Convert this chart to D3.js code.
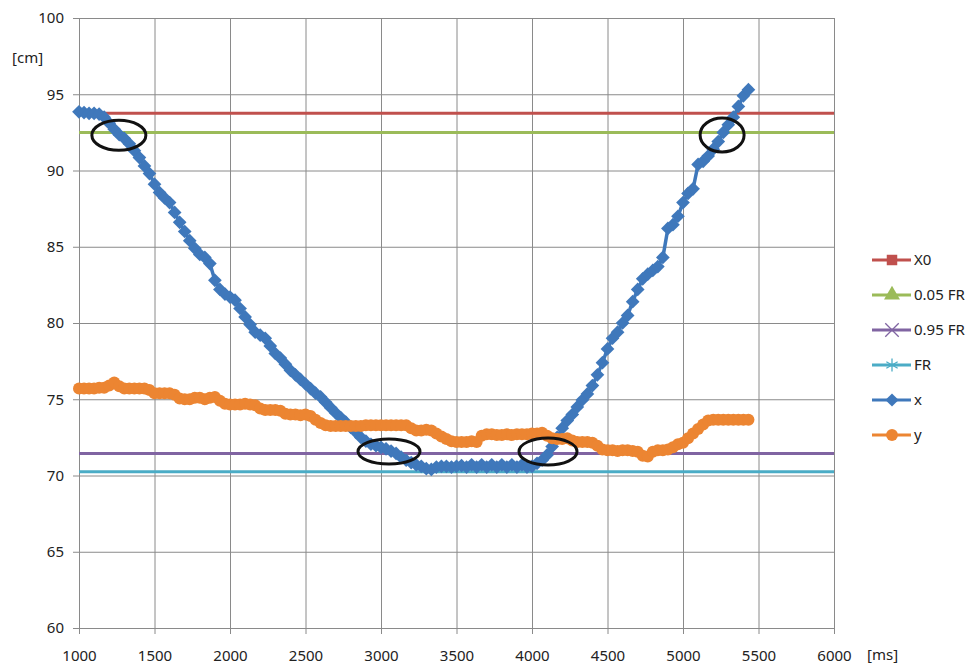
<!DOCTYPE html>
<html>
<head>
<meta charset="utf-8">
<script src="https://cdn.jsdelivr.net/npm/d3@7"></script>
<style>
body { margin: 0; background: #fff; }
text { font-family: "Noto Sans", "Open Sans", sans-serif; fill: #222; }
.grid line { stroke: #8a8a8a; stroke-width: 1; }
.grid path { display: none; }
.axis path, .axis line { stroke: #8a8a8a; }
</style>
</head>
<body>
<svg id="chart" width="974" height="666"></svg>
<script>
// sampling of the recording (30 frames per second)
var startMs = 1000;
var frameMs = 1000 / 30;

var xTicks = [1000, 1500, 2000, 2500, 3000, 3500, 4000, 4500, 5000, 5500, 6000];
var yTicks = [60, 65, 70, 75, 80, 85, 90, 95, 100];

// threshold lines [cm]
var levelNames = ["X0", "0.05 FR", "0.95 FR", "FR"];
var levelValues = [93.75, 92.5, 71.45, 70.25];

// measured positions [cm], one value per frame
var xValues = [
	93.85, 93.8, 93.75, 93.75, 93.7, 93.5, 93.1, 92.7, 92.35, 92.1,
	91.75, 91.3, 90.85, 90.3, 89.8, 89.1, 88.55, 88.2, 87.9, 87.25,
	86.6, 86.0, 85.4, 84.9, 84.5, 84.3, 83.9, 82.8, 82.2, 81.9,
	81.7, 81.5, 80.95, 80.4, 79.9, 79.4, 79.2, 79.0, 78.5, 78.0,
	77.7, 77.3, 76.9, 76.6, 76.3, 76.0, 75.7, 75.4, 75.15, 74.8,
	74.45, 74.1, 73.8, 73.5, 73.15, 72.85, 72.5, 72.25, 72.05, 71.95,
	71.85, 71.75, 71.6, 71.45, 71.2, 71.0, 70.85, 70.7, 70.6, 70.45,
	70.4, 70.55, 70.6, 70.6, 70.55, 70.6, 70.65, 70.55, 70.7, 70.55,
	70.7, 70.55, 70.7, 70.55, 70.7, 70.55, 70.7, 70.55, 70.7, 70.55,
	70.6, 70.8, 71.0, 71.35, 71.9, 72.5, 73.1, 73.6, 74.0, 74.5,
	74.95, 75.35, 75.9, 76.6, 77.4, 78.3, 79.0, 79.4, 80.0, 80.5,
	81.4, 82.2, 82.9, 83.2, 83.45, 83.7, 84.3, 86.2, 86.45, 87.0,
	87.9, 88.5, 88.8, 90.4, 90.6, 90.95, 91.4, 91.9, 92.5, 93.0,
	93.5, 94.2, 94.9, 95.3
];
var yValues = [
	75.7, 75.7, 75.7, 75.7, 75.75, 75.75, 75.9, 76.1, 75.85, 75.7,
	75.7, 75.7, 75.7, 75.7, 75.6, 75.4, 75.4, 75.4, 75.4, 75.3,
	75.05, 75.0, 75.0, 75.1, 75.1, 75.0, 75.1, 75.15, 74.9, 74.7,
	74.65, 74.65, 74.65, 74.7, 74.65, 74.6, 74.4, 74.3, 74.3, 74.3,
	74.25, 74.05, 74.0, 74.0, 73.95, 74.0, 73.9, 73.65, 73.45, 73.3,
	73.25, 73.25, 73.25, 73.25, 73.25, 73.25, 73.25, 73.3, 73.3, 73.3,
	73.3, 73.3, 73.3, 73.3, 73.3, 73.3, 73.1, 72.95, 72.95, 73.0,
	72.95, 72.75, 72.55, 72.4, 72.25, 72.2, 72.2, 72.2, 72.25, 72.2,
	72.6, 72.7, 72.7, 72.65, 72.65, 72.7, 72.65, 72.7, 72.7, 72.7,
	72.75, 72.75, 72.8, 72.6, 72.45, 72.4, 72.4, 72.45, 72.3, 72.2,
	72.2, 72.2, 72.15, 71.95, 71.7, 71.65, 71.65, 71.6, 71.65, 71.65,
	71.6, 71.55, 71.3, 71.25, 71.55, 71.65, 71.65, 71.7, 71.85, 72.05,
	72.15, 72.45, 72.75, 73.05, 73.35, 73.6, 73.65, 73.65, 73.65, 73.65,
	73.65, 73.65, 73.65, 73.65
];

// hand drawn ellipses: centre [ms], centre [cm]
var markMs = [1264, 3053, 4106, 5259];
var markCm = [92.31, 71.57, 71.57, 92.33];

var svg = d3.select("#chart");
var margin = {left: 79, top: 18, right: 140, bottom: 38};
var w = 974 - margin.left - margin.right;
var h = 666 - margin.top - margin.bottom;

var x = d3.scaleLinear().domain([1000, 6000]).range([0, w]);
var y = d3.scaleLinear().domain([60, 100]).range([h, 0]);

var g = svg.append("g").attr("transform", "translate(" + margin.left + "," + margin.top + ")");

g.append("g").attr("class", "grid")
	.call(d3.axisLeft(y).tickValues(yTicks).tickSize(-w).tickFormat(""));
g.append("g").attr("class", "grid")
	.attr("transform", "translate(0," + h + ")")
	.call(d3.axisBottom(x).tickValues(xTicks).tickSize(-h).tickFormat(""));

var yAxis = g.append("g").attr("class", "axis")
	.call(d3.axisLeft(y).tickValues(yTicks).tickFormat(d3.format("d")).tickSize(6).tickPadding(9).tickSizeOuter(0));
var xAxis = g.append("g").attr("class", "axis")
	.attr("transform", "translate(0," + h + ")")
	.call(d3.axisBottom(x).tickValues(xTicks).tickFormat(d3.format("d")).tickSize(6).tickPadding(16).tickSizeOuter(0));
yAxis.selectAll("text").style("font-size", "15px").style("fill", "#222");
xAxis.selectAll("text").style("font-size", "15px").style("fill", "#222");
yAxis.select(".domain").remove();
xAxis.select(".domain").remove();

svg.append("text").attr("x", 12).attr("y", 63).style("font-size", "15px").text("[cm]");
svg.append("text").attr("x", 867).attr("y", 660).style("font-size", "15px").text("[ms]");

var levelColors = ["#c0504d", "#9bbb59", "#8064a2", "#4bacc6"];

g.selectAll(".level").data(levelValues).enter().append("line")
	.attr("class", "level")
	.attr("x1", x(1000)).attr("x2", x(6000))
	.attr("y1", function(d) { return y(d); })
	.attr("y2", function(d) { return y(d); })
	.style("stroke", function(d, i) { return levelColors[i]; })
	.style("stroke-width", 3);

var frames = xValues.map(function(v, i) { return startMs + i * frameMs; });

var line = d3.line()
	.x(function(d) { return x(d[0]); })
	.y(function(d) { return y(d[1]); });

var xPts = frames.map(function(t, i) { return [t, xValues[i]]; });
var yPts = frames.map(function(t, i) { return [t, yValues[i]]; });

g.append("path").datum(xPts).attr("d", line)
	.style("fill", "none").style("stroke", "#3f78bb").style("stroke-width", 3.5);
g.selectAll(".xpt").data(xPts).enter().append("path")
	.attr("class", "xpt")
	.attr("transform", function(d) { return "translate(" + x(d[0]) + "," + y(d[1]) + ")"; })
	.attr("d", d3.symbol().type(d3.symbolDiamond2).size(120))
	.style("fill", "#3f78bb");

g.append("path").datum(yPts).attr("d", line)
	.style("fill", "none").style("stroke", "#ec8532").style("stroke-width", 3.5);
g.selectAll(".ypt").data(yPts).enter().append("circle")
	.attr("class", "ypt")
	.attr("cx", function(d) { return x(d[0]); })
	.attr("cy", function(d) { return y(d[1]); })
	.attr("r", 6)
	.style("fill", "#ec8532");

var rx = [27, 31, 29, 22];
var ry = [15, 12.5, 13.5, 17];
g.selectAll(".mark").data(markMs).enter().append("ellipse")
	.attr("class", "mark")
	.attr("cx", function(d) { return x(d); })
	.attr("cy", function(d, i) { return y(markCm[i]); })
	.attr("rx", function(d, i) { return rx[i]; })
	.attr("ry", function(d, i) { return ry[i]; })
	.style("fill", "none").style("stroke", "#111").style("stroke-width", 3);

// legend
var legendNames = levelNames.concat(["x", "y"]);
var legendColors = levelColors.concat(["#3f78bb", "#ec8532"]);
var legendSymbols = [d3.symbolSquare, d3.symbolTriangle, d3.symbolX, d3.symbolAsterisk, d3.symbolDiamond2, d3.symbolCircle];

var legend = svg.append("g").attr("transform", "translate(872,260)");
var item = legend.selectAll(".item").data(legendNames).enter().append("g")
	.attr("class", "item")
	.attr("transform", function(d, i) { return "translate(0," + i * 35 + ")"; });
item.append("line")
	.attr("x1", 0).attr("x2", 39).attr("y1", 0).attr("y2", 0)
	.style("stroke", function(d, i) { return legendColors[i]; })
	.style("stroke-width", 3);
item.append("path")
	.attr("transform", "translate(20,0)")
	.attr("d", function(d, i) {
		return d3.symbol().type(legendSymbols[i]).size(i == 2 || i == 3 ? 120 : 110)();
	})
	.style("fill", function(d, i) { return (i == 2 || i == 3) ? "none" : legendColors[i]; })
	.style("stroke", function(d, i) { return legendColors[i]; })
	.style("stroke-width", function(d, i) { return (i == 2 || i == 3) ? 1.3 : 0; });
item.append("text")
	.attr("x", 42).attr("y", 5)
	.style("font-size", "15px")
	.text(function(d) { return d; });
</script>
</body>
</html>
